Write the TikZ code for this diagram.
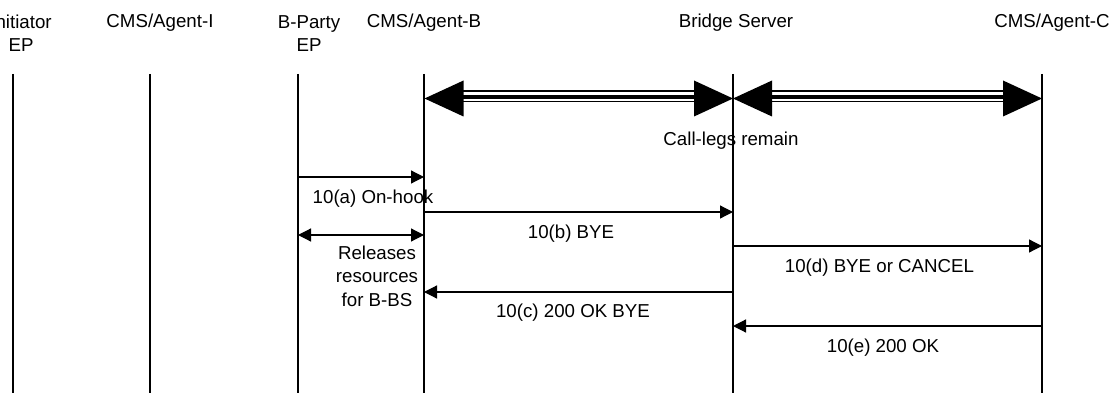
\documentclass[tikz,border=0pt]{standalone}
\usepackage{fontspec}
\setmainfont{Liberation Sans}
\usetikzlibrary{arrows.meta}
\begin{document}
\begin{tikzpicture}[x=1pt,y=-1pt,
  every node/.style={font=\fontsize{18.7}{23.5}\selectfont, inner sep=0pt},
  lifeline/.style={line width=1.1pt},
  msg/.style={line width=1.2pt,-{Triangle[length=13pt,width=13pt]}},
  msgboth/.style={line width=1.2pt,{Triangle[length=13pt,width=13pt]}-{Triangle[length=13pt,width=13pt]}},
  hdr/.style={align=center,anchor=base},
  lbl/.style={align=center,anchor=base}]
\useasboundingbox (0,0) rectangle (1113,393);
% headers (base = baseline of the last line)
\node[hdr] (h1) at (21,52) {Initiator\\EP};
\node[hdr] (h2) at (160,28) {CMS/Agent-I};
\node[hdr] (h3) at (309,52) {B-Party\\EP};
\node[hdr] (h4) at (424,28) {CMS/Agent-B};
\node[hdr] (h5) at (736,28) {Bridge Server};
\node[hdr] (h6) at (1052,28) {CMS/Agent-C};
% lifelines
\foreach \n/\x in {1/13,2/150,3/298,4/424,5/733,6/1042}{
  \coordinate (L\n) at (\x,74);
  \coordinate (B\n) at (\x,393);
  \draw[lifeline] (L\n) -- (B\n);
}
% call legs remain
\coordinate (T4) at (424.5,98.5);
\coordinate (T5) at (733,98.5);
\coordinate (T6) at (1042,98.5);
\foreach \a/\b in {T4/T5,T5/T6}{
  \fill (\a) -- ++(39,-18) -- ++(0,36) -- cycle;
  \fill (\b) -- ++(-39,-18) -- ++(0,36) -- cycle;
  \draw[line width=2.6pt] ([xshift=38pt,yshift=7.5pt]\a) -- ([xshift=-38pt,yshift=7.5pt]\b);
  \draw[line width=3.2pt] ([xshift=38pt,yshift=1.5pt]\a) -- ([xshift=-38pt,yshift=1.5pt]\b);
  \draw[line width=1.8pt] ([xshift=38pt,yshift=-3pt]\a) -- ([xshift=-38pt,yshift=-3pt]\b);
}
\node[lbl] (cl) at (731,146) {Call-legs remain};
% messages
\coordinate (a3) at (298,177); \coordinate (a4) at (424,177);
\draw[msg] (a3) -- (a4);
\node[lbl] (la) at (373,203) {10(a) On-hook};
\coordinate (b4) at (424,212); \coordinate (b5) at (733,212);
\draw[msg] (b4) -- (b5);
\node[lbl] (lb) at (571,238) {10(b) BYE};
\coordinate (r3) at (298,235); \coordinate (r4) at (424,235);
\draw[msgboth] (r3) -- (r4);
\node[lbl] (lr) at (377,306) {Releases\\resources\\for B-BS};
\coordinate (d5) at (733,246); \coordinate (d6) at (1042,246);
\draw[msg] (d5) -- (d6);
\node[lbl] (ld) at (879.5,272) {10(d) BYE or CANCEL};
\coordinate (c5) at (733,292); \coordinate (c4) at (424,292);
\draw[msg] (c5) -- (c4);
\node[lbl] (lc) at (573,317) {10(c) 200 OK BYE};
\coordinate (e6) at (1042,326); \coordinate (e5) at (733,326);
\draw[msg] (e6) -- (e5);
\node[lbl] (le) at (883,352) {10(e) 200 OK};
\end{tikzpicture}
\end{document}
